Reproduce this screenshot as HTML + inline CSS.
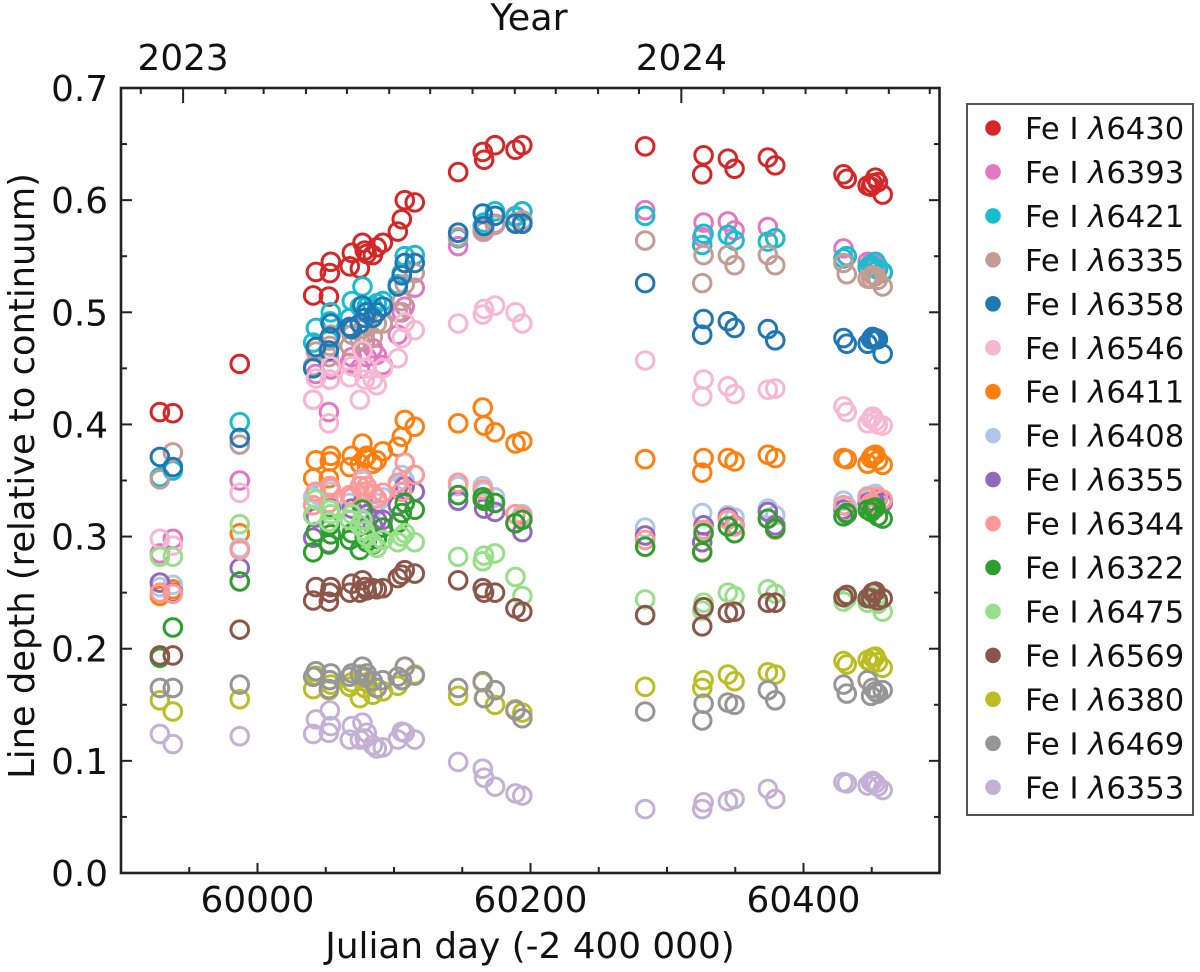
<!DOCTYPE html>
<html lang="en">
<head>
<meta charset="utf-8">
<title>Fe I line depth versus Julian day</title>
<style>
html,body{margin:0;padding:0;background:#fff;width:1200px;height:972px;overflow:hidden}
svg{display:block;filter:blur(0.35px)}
text{font-family:"DejaVu Sans","Liberation Sans",sans-serif;fill:#111}
</style>
</head>
<body>
<svg id="chart" xmlns="http://www.w3.org/2000/svg" width="1200" height="972" viewBox="0 0 1200 972">
  <text x="529" y="30" font-size="36.5" text-anchor="middle">Year</text>
  <text x="530" y="958" font-size="35.8" text-anchor="middle">Julian day (-2 400 000)</text>
  <text transform="translate(34,476) rotate(-90)" font-size="35.3" text-anchor="middle">Line depth (relative to continuum)</text>
  <g id="marks"></g>
  <g id="axes"></g>
  <rect x="121" y="88" width="818.5" height="785" fill="none" stroke="#222" stroke-width="2.6"/>
  <g id="legend">
    <rect x="967" y="104" width="226" height="711" fill="#fff" stroke="#555" stroke-width="2"/>
  </g>
</svg>
<script>
const days = [59928.5,59938,59987,
 60040.8,60042.8,60052.3,60053,60053.7,
 60067.6,60069.1,60075,60076.9,60078.6,60080,60084.5,60087.4,60091.8,60102.8,60105.7,60107.9,60115.2,
 60147,60165,60166,60174,60189,60194,
 60284,60325.8,60326.8,60344.6,60349.5,60373.9,60379.3,60429.3,60431.7,
 60447,60449.5,60450.7,60452.7,60454.5,60458];

const fe6430 = [.411,.410,.454, .515,.536,.514,.535,.545, .541,.553,.539,.562,.555,.552,.551,.558,.562,.572,.583,.600,.598, .625,.643,.636,.649,.645,.649, .648,.623,.640,.637,.628,.638,.631,.623,.619, .613,.612,.615,.620,.616,.605];
const fe6393 = [.285,.298,.350, .422,.445,.411,.44,.449, .455,.46,.45,.465,.474,.46,.468,.462,.453,.48,.50,.505,.522, .559,.573,.572,.579,.586,.590, .591,.567,.580,.581,.573,.576,.566,.557,.55, .545,.544,.543,.543,.541,.535];
const fe6421 = [.353,.359,.402, .473,.486,.475,.492,.50, .495,.51,.505,.523,.50,.505,.505,.508,.51,.525,.535,.55,.551, .566,.577,.58,.59,.585,.59, .586,.560,.570,.569,.564,.563,.566,.548,.550, .54,.542,.54,.545,.538,.536];
const fe6335 = [.351,.375,.382, .452,.465,.46,.47,.48, .47,.48,.475,.485,.48,.49,.478,.49,.49,.50,.51,.525,.535, .567,.572,.575,.578,.58,.582, .564,.526,.551,.551,.542,.551,.542,.544,.534, .530,.530,.533,.532,.529,.523];
const fe6358 = [.371,.362,.388, .450,.469,.466,.478,.490, .487,.485,.49,.506,.495,.50,.495,.50,.505,.523,.533,.544,.544, .571,.588,.577,.586,.579,.579, .526,.480,.494,.492,.486,.485,.475,.477,.472, .472,.476,.478,.477,.476,.463];
const fe6546 = [.298,.292,.339, .422,.441,.401,.44,.452, .442,.452,.422,.466,.44,.45,.44,.435,.45,.459,.477,.491,.484, .490,.498,.503,.506,.500,.490, .457,.425,.440,.434,.427,.431,.432,.416,.411, .401,.405,.407,.403,.40,.399];
const fe6411 = [.247,.253,.303, .352,.368,.352,.367,.372, .362,.372,.365,.383,.37,.372,.365,.368,.376,.38,.389,.404,.398, .401,.415,.399,.393,.383,.385, .369,.357,.370,.370,.367,.373,.370,.370,.369, .365,.370,.372,.373,.368,.364];
const fe6408 = [.255,.257,.29, .335,.338,.33,.345,.34, .33,.335,.345,.35,.34,.34,.325,.33,.335,.345,.355,.35,.355, .345,.345,.34,.335,.32,.32, .308,.321,.31,.319,.317,.325,.319,.332,.327, .336,.336,.337,.338,.335,.33];
const fe6355 = [.259,.250,.272, .299,.317,.294,.31,.325, .315,.325,.31,.33,.315,.32,.31,.315,.315,.328,.34,.345,.34, .332,.333,.325,.322,.312,.304, .301,.295,.31,.317,.31,.322,.310,.324,.32, .33,.331,.33,.33,.334,.33];
const fe6344 = [.25,.249,.288, .328,.34,.33,.345,.343, .337,.335,.345,.352,.34,.345,.338,.334,.339,.348,.34,.366,.355, .348,.342,.335,.33,.32,.318, .297,.287,.306,.315,.309,.316,.306,.328,.322, .335,.33,.328,.325,.335,.333];
const fe6322 = [.192,.219,.260, .286,.304,.293,.31,.302, .297,.303,.288,.324,.30,.295,.293,.298,.308,.312,.321,.33,.324, .337,.335,.332,.33,.312,.315, .291,.286,.303,.309,.303,.316,.307,.318,.321, .324,.322,.325,.326,.318,.316];
const fe6475 = [.282,.282,.311, .319,.333,.313,.324,.32, .315,.32,.31,.315,.305,.30,.294,.29,.297,.295,.30,.303,.295, .282,.278,.283,.285,.264,.247, .244,.234,.241,.25,.247,.253,.249,.242,.245, .241,.247,.25,.245,.24,.233];
const fe6569 = [.194,.194,.217, .243,.255,.242,.25,.255, .25,.258,.25,.261,.255,.252,.254,.253,.254,.263,.266,.270,.267, .261,.254,.25,.25,.236,.233, .230,.22,.237,.232,.233,.241,.241,.246,.248, .245,.245,.25,.251,.243,.245];
const fe6380 = [.154,.144,.155, .164,.176,.163,.172,.168, .166,.17,.156,.174,.165,.17,.159,.165,.162,.167,.172,.184,.177, .158,.17,.156,.15,.146,.143, .166,.165,.172,.177,.171,.179,.177,.189,.186, .19,.187,.192,.193,.188,.183];
const fe6469 = [.165,.165,.168, .175,.18,.164,.172,.178, .175,.178,.177,.184,.175,.178,.171,.165,.172,.175,.172,.184,.176, .165,.171,.156,.163,.145,.138, .144,.136,.151,.152,.15,.163,.154,.168,.16, .172,.158,.165,.162,.16,.163];
const fe6353 = [.124,.115,.122, .124,.137,.125,.145,.131, .119,.131,.119,.134,.12,.125,.114,.111,.112,.119,.126,.125,.119, .099,.093,.085,.077,.071,.069, .057,.057,.063,.064,.066,.075,.066,.081,.080, .078,.081,.082,.08,.077,.074];

const seriesLabels = ["6430","6393","6421","6335","6358","6546","6411","6408","6355","6344","6322","6475","6569","6380","6469","6353"];
const seriesColors = ["#d62728","#e377c2","#17becf","#c49c94","#1f77b4","#f7b6d2","#ff7f0e","#aec7e8","#9467bd","#ff9896","#2ca02c","#98df8a","#8c564b","#bcbd22","#969696","#c5b0d5"];
const seriesValues = [fe6430,fe6393,fe6421,fe6335,fe6358,fe6546,fe6411,fe6408,fe6355,fe6344,fe6322,fe6475,fe6569,fe6380,fe6469,fe6353];

const xMajorTicks = [60000,60200,60400];
const xMinorTicks = [59950,60050,60100,60150,60250,60300,60350,60450];
const yMajorTicks = [0,0.1,0.2,0.3,0.4,0.5,0.6,0.7];
const yMinorTicks = [0.05,0.15,0.25,0.35,0.45,0.55,0.65];
const yearTicks = [59945.5,60310.5];
const yearLabels = ["2023","2024"];
const monthTicks = [59914.5,59976.5,60004.5,60035.5,60065.5,60096.5,60126.5,60157.5,60188.5,60218.5,60249.5,60279.5,60341.5,60370.5,60401.5,60431.5,60462.5,60492.5];

const NS = "http://www.w3.org/2000/svg";
const PLOT = {left:121, right:940, top:88, bottom:873};
const xScale = d => PLOT.left + (d - 59900) / 600 * (PLOT.right - PLOT.left);
const yScale = v => PLOT.bottom - v / 0.7 * (PLOT.bottom - PLOT.top);

const marks = document.getElementById("marks");
const axes = document.getElementById("axes");
const legend = document.getElementById("legend");

function tickLine(x1, y1, x2, y2, w) {
  const l = document.createElementNS(NS, "line");
  l.setAttribute("x1", x1);
  l.setAttribute("y1", y1);
  l.setAttribute("x2", x2);
  l.setAttribute("y2", y2);
  l.setAttribute("stroke", "#222");
  l.setAttribute("stroke-width", w);
  
  
  axes.appendChild(l);
}
function tickText(str, x, y, anchor, size) {
  const t = document.createElementNS(NS, "text");
  t.setAttribute("x", x);
  t.setAttribute("y", y);
  t.setAttribute("text-anchor", anchor);
  t.setAttribute("font-size", size);
  
  
  t.textContent = str;
  axes.appendChild(t);
}

xMajorTicks.forEach(d => {
  tickLine(xScale(d), PLOT.bottom, xScale(d), PLOT.bottom - 10, 2);
  tickText(String(d), xScale(d), 912, "middle", 35.8);
});
xMinorTicks.forEach(d => tickLine(xScale(d), PLOT.bottom, xScale(d), PLOT.bottom - 6, 2));
yearTicks.forEach((d, i) => {
  tickLine(xScale(d), PLOT.top, xScale(d), PLOT.top + 15, 2);
  tickText(yearLabels[i], xScale(d), 70, "middle", 35.8);
});
monthTicks.forEach(d => tickLine(xScale(d), PLOT.top, xScale(d), PLOT.top + 6, 2));
yMajorTicks.forEach(v => {
  tickLine(PLOT.left, yScale(v), PLOT.left + 11, yScale(v), 2);
  tickLine(PLOT.right, yScale(v), PLOT.right - 11, yScale(v), 2);
  tickText(v.toFixed(1), 108, yScale(v) + 13, "end", 35.8);
});
yMinorTicks.forEach(v => {
  tickLine(PLOT.left, yScale(v), PLOT.left + 6, yScale(v), 2);
  tickLine(PLOT.right, yScale(v), PLOT.right - 6, yScale(v), 2);
});

seriesValues.forEach((vals, s) => {
  const g = document.createElementNS(NS, "g");
  
  
  vals.forEach((v, i) => {
    const c = document.createElementNS(NS, "circle");
    c.setAttribute("cx", xScale(days[i]));
    c.setAttribute("cy", yScale(v));
    c.setAttribute("r", 8.8);
    c.setAttribute("fill", "none");
    c.setAttribute("stroke", seriesColors[s]);
    c.setAttribute("stroke-width", 3);
    
    
    g.appendChild(c);
  });
  marks.appendChild(g);
});

seriesLabels.forEach((lab, s) => {
  const rowY = 128 + s * 43.95;
  const g = document.createElementNS(NS, "g");
  
  
  const dot = document.createElementNS(NS, "circle");
  dot.setAttribute("cx", 993);
  dot.setAttribute("cy", rowY);
  dot.setAttribute("r", 7.8);
  dot.setAttribute("fill", seriesColors[s]);
  
  
  g.appendChild(dot);
  const t = document.createElementNS(NS, "text");
  t.setAttribute("x", 1025);
  t.setAttribute("y", rowY + 11);
  t.setAttribute("font-size", 30.6);
  
  
  t.appendChild(document.createTextNode("Fe I "));
  const lam = document.createElementNS(NS, "tspan");
  lam.setAttribute("font-style", "italic");
  lam.textContent = "\u03BB";
  t.appendChild(lam);
  t.appendChild(document.createTextNode(lab));
  g.appendChild(t);
  legend.appendChild(g);
});
</script>
</body>
</html>
